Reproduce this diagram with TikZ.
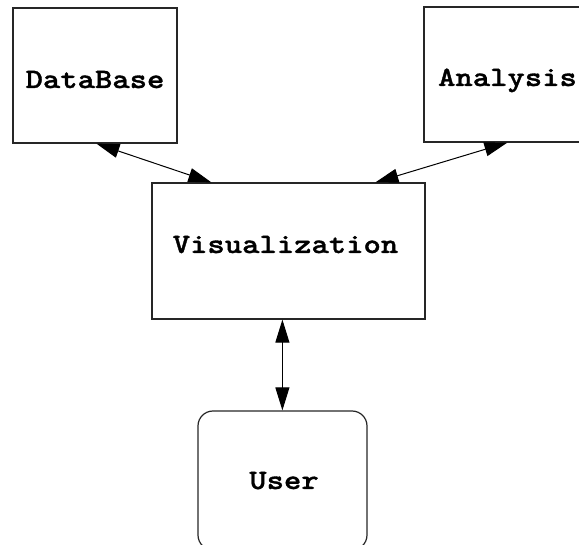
\documentclass[tikz,border=0pt]{standalone}
\usepackage{fontspec}
\newfontfamily\courb[FakeStretch=1.18,FakeBold=1.2]{lmmonolt10-bold.otf}
\usetikzlibrary{arrows.meta,calc}
\tikzset{
  box/.style={draw=black!85, line width=1.2pt, rectangle, inner sep=0pt},
  ubox/.style={box, rounded corners=15pt},
  lbl/.style={anchor=base, inner sep=0pt, font=\courb\fontsize{28}{32}\selectfont},
  conn/.style={line width=1pt, {Triangle[length=23pt,width=14pt]}-{Triangle[length=23pt,width=14pt]}}
}
\begin{document}
\begin{tikzpicture}[x=1pt,y=-1pt]
\useasboundingbox (0,0) rectangle (579,545);
\clip (0,0) rectangle (579,545);
% boxes
\node[box, minimum width=164pt, minimum height=135pt] (db) at (95,75.5) {};
\node[box, minimum width=167pt, minimum height=135pt] (an) at (507.5,74.5) {};
\node[box, minimum width=273pt, minimum height=136pt] (vis) at (288.5,251) {};
\node[ubox, minimum width=169pt, minimum height=139pt] (user) at (282.5,480.5) {};
% labels
\node[lbl] (dbt) at (95,88) {DataBase};
\node[lbl] (ant) at (507.5,86) {Analysis};
\node[lbl] (vist) at (285.5,253) {Visualization};
\node[lbl] (usert) at (284,489) {User};
% connectors
\draw[conn] ($(db.south west)+(84,0)$) -- ($(vis.north west)+(60,0)$);
\draw[conn] ($(an.south west)+(84,0)$) -- ($(vis.north west)+(224,0)$);
\draw[conn] ($(vis.south west)+(131,0)$) -- ($(user.north west)+(85,0)$);
\end{tikzpicture}
\end{document}
